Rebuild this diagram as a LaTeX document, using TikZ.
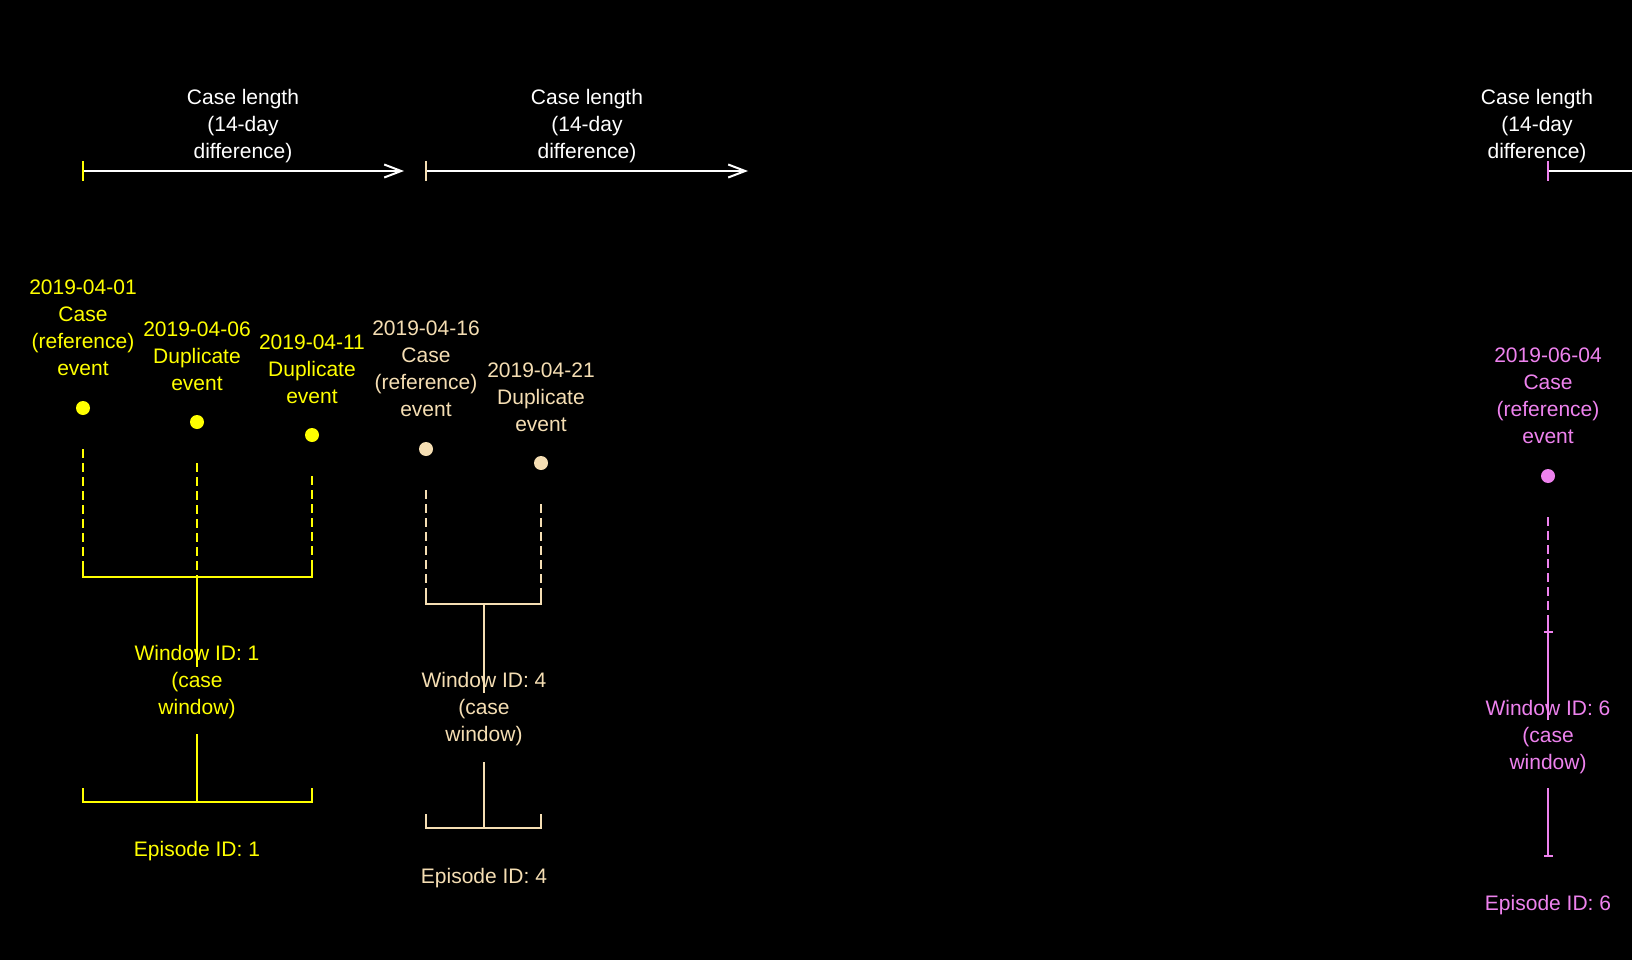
\documentclass[tikz,border=0pt]{standalone}
\usepackage{fontspec}
\setmainfont{Liberation Sans}
\usetikzlibrary{arrows.meta,calc}
\definecolor{grpA}{HTML}{FFFF00}
\definecolor{grpB}{HTML}{F5DEB3}
\definecolor{grpC}{HTML}{EE82EE}
\begin{document}
\begin{tikzpicture}[x=0.75pt,y=-0.75pt,
  lbl/.style={font=\fontsize{15.75pt}{20.25pt}\selectfont, align=center, inner sep=0pt},
  ln/.style={line width=1.5pt},
  dsh/.style={line width=1.5pt, dash pattern=on 6.75pt off 3.75pt},
  evdot/.style={circle, fill=#1, inner sep=0pt, minimum size=10.5pt},
  lenarrow/.style={line width=1.5pt, white, -{Straight Barb[length=12.75pt,width=9.75pt]}},
]
\fill[black] (0,0) rectangle (1632,960);
\useasboundingbox (0,0) rectangle (1632,960);
\clip (0,0) rectangle (1632,960);

% ---- case length arrows
\coordinate (a1s) at (83,171);  \coordinate (a1e) at (404,171);
\coordinate (a2s) at (426,171); \coordinate (a2e) at (748,171);
\coordinate (a3s) at (1548,171); \coordinate (a3e) at (1870,171);
\draw[lenarrow] (a1s) -- (a1e);
\draw[lenarrow] (a2s) -- (a2e);
\draw[lenarrow] (a3s) -- (a3e);
\draw[ln, grpA] ($(a1s)+(0,-10)$) -- ($(a1s)+(0,10)$);
\draw[ln, grpB] ($(a2s)+(0,-10)$) -- ($(a2s)+(0,10)$);
\draw[ln, grpC] ($(a3s)+(0,-10)$) -- ($(a3s)+(0,10)$);
\node[lbl, white] (c1) at (243,126) {Case length\\(14-day\\difference)};
\node[lbl, white] (c2) at (587,126) {Case length\\(14-day\\difference)};
\node[lbl, white] (c3) at (1537,126) {Case length\\(14-day\\difference)};

% ---- events
\node[evdot=grpA] (e1) at (83,408) {};
\node[evdot=grpA] (e2) at (197,422) {};
\node[evdot=grpA] (e3) at (312,435) {};
\node[evdot=grpB] (e4) at (426,449) {};
\node[evdot=grpB] (e5) at (541,463) {};
\node[evdot=grpC] (e6) at (1548,476) {};

\node[lbl, grpA] (t1) at (83,328) {2019-04-01\\Case\\(reference)\\event};
\node[lbl, grpA] (t2) at (197,356) {2019-04-06\\Duplicate\\event};
\node[lbl, grpA] (t3) at (312,369) {2019-04-11\\Duplicate\\event};
\node[lbl, grpB] (t4) at (426,369) {2019-04-16\\Case\\(reference)\\event};
\node[lbl, grpB] (t5) at (541,397) {2019-04-21\\Duplicate\\event};
\node[lbl, grpC] (t6) at (1548,396) {2019-06-04\\Case\\(reference)\\event};

% ---- group A (yellow)
\coordinate (wA1) at (83,577); \coordinate (wA2) at (312,577); \coordinate (wAm) at (197,577);
\draw[dsh, grpA] ($(e1)+(0,41)$) -- ($(wA1)+(0,-13)$);
\draw[dsh, grpA] ($(e2)+(0,41)$) -- (wAm);
\draw[dsh, grpA] ($(e3)+(0,41)$) -- ($(wA2)+(0,-13)$);
\draw[ln, grpA] ($(wA1)+(0,-13)$) -- (wA1) -- (wA2) -- ($(wA2)+(0,-13)$);
\node[lbl, grpA] (wlA) at (197,682) {Window ID: 1\\(case\\window)};
\draw[ln, grpA] (wAm) -- (197,667);
\coordinate (pA1) at (83,802); \coordinate (pA2) at (312,802); \coordinate (pAm) at (197,802);
\draw[ln, grpA] (197,734) -- (pAm);
\draw[ln, grpA] ($(pA1)+(0,-14)$) -- (pA1) -- (pA2) -- ($(pA2)+(0,-14)$);
\node[lbl, grpA] (elA) at (197,851) {Episode ID: 1};

% ---- group B (wheat)
\coordinate (wB1) at (426,604); \coordinate (wB2) at (541,604); \coordinate (wBm) at (484,604);
\draw[dsh, grpB] ($(e4)+(0,41)$) -- ($(wB1)+(0,-13)$);
\draw[dsh, grpB] ($(e5)+(0,41)$) -- ($(wB2)+(0,-13)$);
\draw[ln, grpB] ($(wB1)+(0,-13)$) -- (wB1) -- (wB2) -- ($(wB2)+(0,-13)$);
\node[lbl, grpB] (wlB) at (484,709) {Window ID: 4\\(case\\window)};
\draw[ln, grpB] (wBm) -- (484,693);
\coordinate (pB1) at (426,828); \coordinate (pB2) at (541,828); \coordinate (pBm) at (484,828);
\draw[ln, grpB] (484,762) -- (pBm);
\draw[ln, grpB] ($(pB1)+(0,-14)$) -- (pB1) -- (pB2) -- ($(pB2)+(0,-14)$);
\node[lbl, grpB] (elB) at (484,878) {Episode ID: 4};

% ---- group C (violet)
\coordinate (wC) at (1548,632);
\draw[dsh, grpC] ($(e6)+(0,41)$) -- ($(wC)+(0,-13)$);
\draw[ln, grpC] ($(wC)+(0,-13)$) -- (wC);
\draw[ln, grpC] ($(wC)+(-4,0)$) -- ($(wC)+(5,0)$);
\node[lbl, grpC] (wlC) at (1548,737) {Window ID: 6\\(case\\window)};
\draw[ln, grpC] (wC) -- (1548,720);
\coordinate (pC) at (1548,856);
\draw[ln, grpC] (1548,788) -- (pC);
\draw[ln, grpC] ($(pC)+(-4,0)$) -- ($(pC)+(5,0)$);
\node[lbl, grpC] (elC) at (1548,905) {Episode ID: 6};
\end{tikzpicture}
\end{document}
